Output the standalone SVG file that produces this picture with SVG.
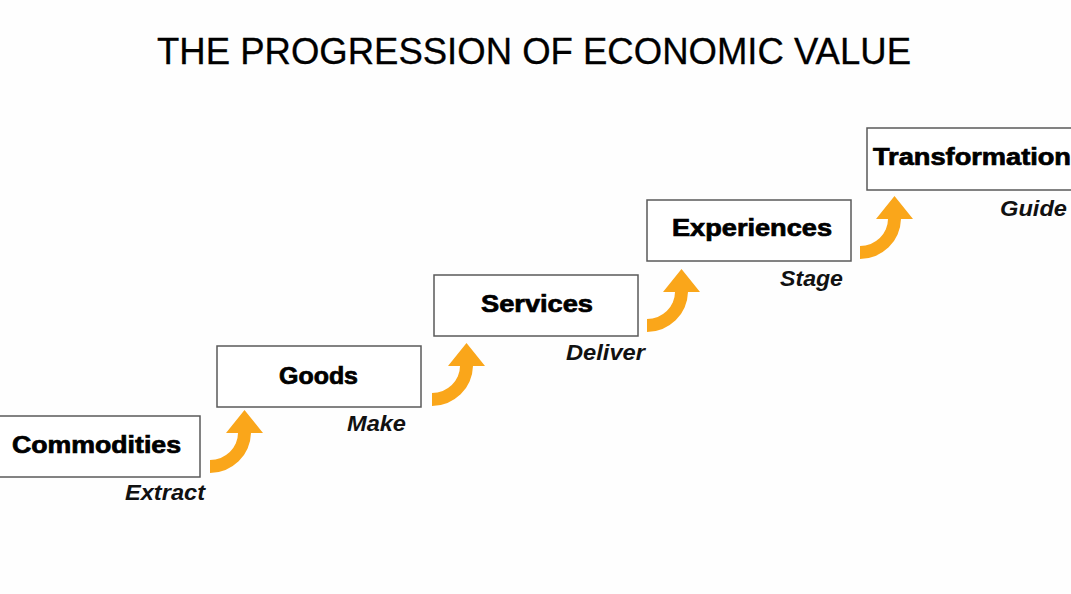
<svg xmlns="http://www.w3.org/2000/svg" width="1071" height="594" viewBox="0 0 1071 594">
  <style>
    .box { fill: #ffffff; stroke: #5a5a5a; stroke-width: 1.5; }
    .name { font-family: "Liberation Sans", Arial, sans-serif; font-weight: bold; font-size: 23px; fill: #000; stroke: #000; stroke-width: 0.7; text-anchor: start; }
    .verb { font-family: "Liberation Sans", Arial, sans-serif; font-weight: bold; font-style: italic; font-size: 22px; fill: #111; text-anchor: start; }
    .title { font-family: "Liberation Sans", Arial, sans-serif; font-size: 37px; fill: #000; stroke: #000; stroke-width: 0.3; }
    .arrow { fill: #FAA61A; }
  </style>
  <defs>
    <path id="curvedUp" d="M0,0 A41,41 0 0 0 41,-40 L53,-40 L34.5,-63 L16,-40 L28,-40 A28,27 0 0 1 0,-13 Z"/>
  </defs>
  <rect width="1071" height="594" fill="#fefefe"/>
  <text class="title" x="157" y="64" textLength="754" lengthAdjust="spacingAndGlyphs">THE PROGRESSION OF ECONOMIC VALUE</text>

  <g id="commodities">
    <rect class="box" x="-2" y="416" width="202" height="61"/>
    <text class="name" x="12" y="453" textLength="169" lengthAdjust="spacingAndGlyphs">Commodities</text>
    <text class="verb" x="125" y="500" textLength="80" lengthAdjust="spacingAndGlyphs">Extract</text>
  </g>
  <g id="goods">
    <rect class="box" x="217" y="346" width="204" height="61"/>
    <text class="name" x="279" y="384" textLength="79" lengthAdjust="spacingAndGlyphs">Goods</text>
    <text class="verb" x="347" y="431" textLength="59" lengthAdjust="spacingAndGlyphs">Make</text>
  </g>
  <g id="services">
    <rect class="box" x="434" y="275" width="204" height="61"/>
    <text class="name" x="481" y="312" textLength="112" lengthAdjust="spacingAndGlyphs">Services</text>
    <text class="verb" x="566" y="360" textLength="79" lengthAdjust="spacingAndGlyphs">Deliver</text>
  </g>
  <g id="experiences">
    <rect class="box" x="647" y="200" width="204" height="61"/>
    <text class="name" x="672" y="236" textLength="160" lengthAdjust="spacingAndGlyphs">Experiences</text>
    <text class="verb" x="780" y="286" textLength="63" lengthAdjust="spacingAndGlyphs">Stage</text>
  </g>
  <g id="transformation">
    <rect class="box" x="867" y="128" width="210" height="62"/>
    <text class="name" x="873" y="165" textLength="198" lengthAdjust="spacingAndGlyphs">Transformation</text>
    <text class="verb" x="1000" y="216" textLength="67" lengthAdjust="spacingAndGlyphs">Guide</text>
  </g>

  <g id="connectors">
    <use href="#curvedUp" class="arrow" x="210" y="473"/>
    <use href="#curvedUp" class="arrow" x="432" y="406"/>
    <use href="#curvedUp" class="arrow" x="647" y="332"/>
    <use href="#curvedUp" class="arrow" x="860" y="259"/>
  </g>
</svg>
